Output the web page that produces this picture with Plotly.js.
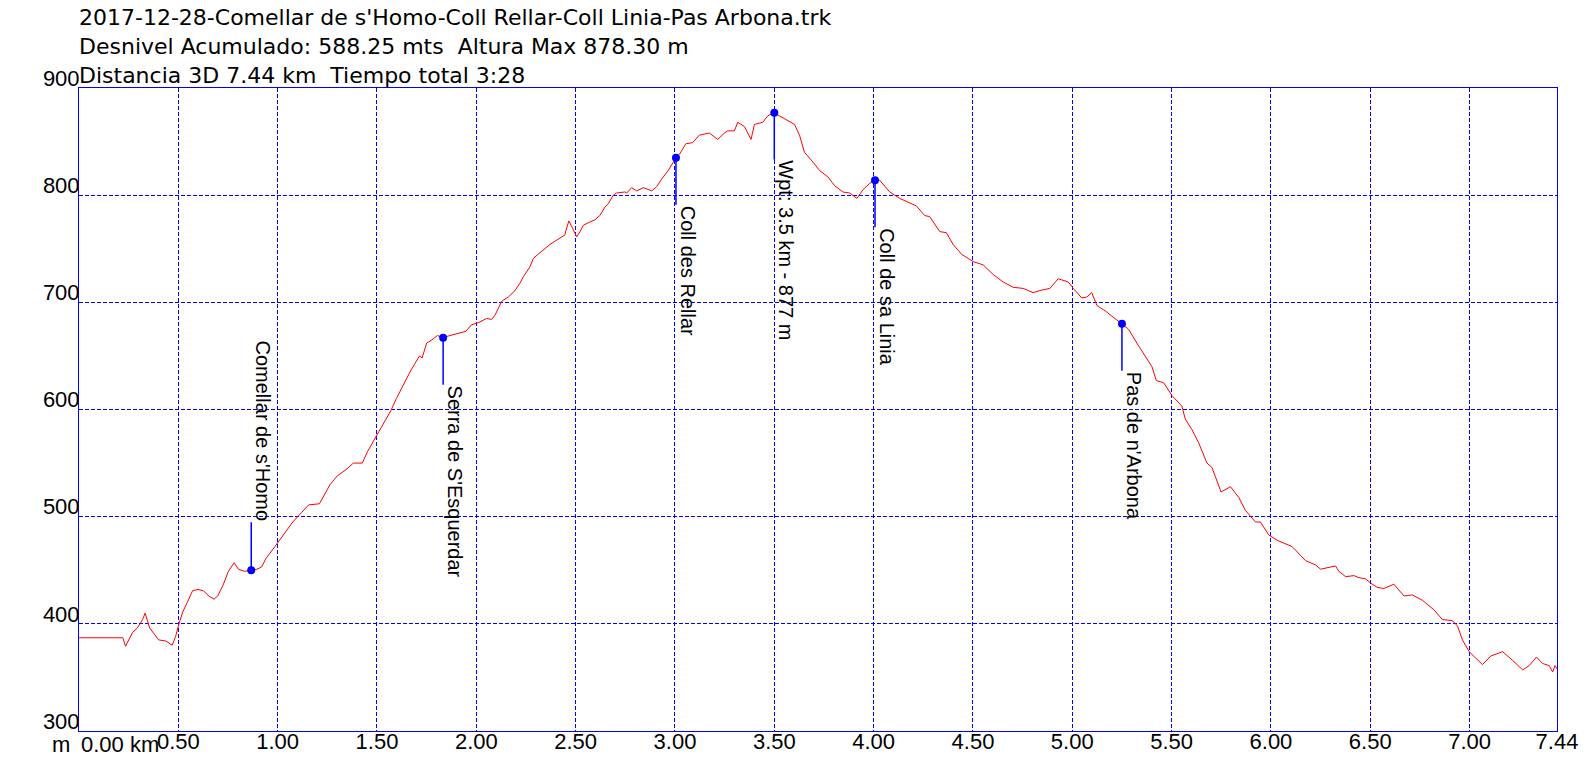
<!DOCTYPE html>
<html><head><meta charset="utf-8">
<script src="https://cdn.plot.ly/plotly-3.0.1.min.js"></script>
<style>html,body{margin:0;padding:0;background:#fff;} #chart{width:1596px;height:769px;}</style>
</head><body><div id="chart"></div>
<script>
const titleLines = [
  "2017-12-28-Comellar de s'Homo-Coll Rellar-Coll Linia-Pas Arbona.trk",
  "Desnivel Acumulado: 588.25 mts  Altura Max 878.30 m",
  "Distancia 3D 7.44 km  Tiempo total 3:28"
];

const distKm = [
  0.000,0.221,0.234,0.270,0.293,0.320,0.333,0.342,0.356,0.401,0.437,0.469,0.486,0.500,0.522,0.545,0.572,0.599,0.626,0.653,
  0.680,0.698,0.725,0.752,0.781,0.802,0.833,0.867,0.896,0.919,0.941,0.986,1.022,1.076,1.121,1.156,1.210,1.228,1.264,1.300,
  1.345,1.381,1.426,1.453,1.489,1.534,1.570,1.597,1.642,1.669,1.714,1.727,1.750,1.777,1.804,1.833,1.867,1.903,1.948,1.975,
  2.011,2.052,2.077,2.094,2.128,2.161,2.195,2.220,2.237,2.270,2.287,2.312,2.337,2.371,2.396,2.421,2.446,2.451,2.466,2.485,
  2.505,2.522,2.539,2.572,2.597,2.622,2.648,2.664,2.690,2.706,2.748,2.757,2.782,2.807,2.841,2.883,2.908,2.933,2.966,2.992,
  3.005,3.022,3.055,3.089,3.123,3.173,3.215,3.249,3.266,3.299,3.316,3.350,3.383,3.400,3.442,3.467,3.500,3.526,3.568,3.602,
  3.627,3.652,3.694,3.728,3.770,3.803,3.845,3.879,3.916,3.946,3.980,4.007,4.030,4.081,4.131,4.182,4.215,4.257,4.282,4.333,
  4.366,4.400,4.442,4.501,4.551,4.602,4.652,4.703,4.753,4.803,4.837,4.887,4.929,4.980,5.005,5.048,5.073,5.098,5.124,5.166,
  5.208,5.250,5.283,5.325,5.367,5.401,5.423,5.460,5.502,5.552,5.569,5.603,5.636,5.678,5.703,5.729,5.749,5.796,5.838,5.871,
  5.922,5.947,5.989,6.031,6.073,6.107,6.174,6.224,6.250,6.292,6.325,6.342,6.376,6.418,6.443,6.476,6.502,6.535,6.569,6.619,
  6.670,6.712,6.762,6.821,6.863,6.913,6.939,6.964,6.998,7.031,7.065,7.107,7.166,7.216,7.267,7.300,7.337,7.367,7.401,7.418,
  7.430,7.440
];
const elevM = [
  387,387,379,392,396,404,410,404,396,385,384,380,388,398,411,420,431,432,431,426,
  423,426,436,449,457,451,449,450,451,453,461,472,481,495,504,511,512,518,530,538,
  544,550,550,561,573,587,599,610,626,636,650,648,662,665,669,667,669,671,673,679,
  681,685,684,688,701,705,711,718,724,733,741,745,749,754,757,760,763,767,776,769,
  761,766,772,775,777,781,789,792,800,802,803,802,807,804,807,804,808,815,823,831,
  835,838,848,849,856,858,852,858,860,860,868,864,852,866,868,874,877,874,870,866,
  856,840,831,823,817,809,803,802,797,805,811,814,814,803,797,793,790,781,780,766,
  765,754,745,738,735,726,719,714,713,709,711,713,722,719,713,704,705,709,697,692,
  686,680,675,662,650,640,627,625,613,603,591,581,569,550,546,534,523,528,518,506,
  495,495,483,478,475,472,459,455,451,453,454,449,444,445,443,442,438,434,433,437,
  426,427,422,413,404,403,398,385,374,368,362,370,374,366,357,361,369,363,361,355,
  361,358
];

const wpNames = ["Comellar de s'Homo", "Serra de S'Esquerdar", "Coll des Rellar", "Wpt: 3.5 km - 877 m", "Coll de sa Linia", "Pas de n'Arbona"];
const wpKm = [0.867, 1.833, 3.005, 3.500, 4.007, 5.250];
const wpElev = [450, 667, 835, 877, 814, 680];
const wpLabelAbove = [true, false, false, false, false, false];

const xTickVals = [0.5,1.0,1.5,2.0,2.5,3.0,3.5,4.0,4.5,5.0,5.5,6.0,6.5,7.0,7.44];
const xTickText = ["0.50","1.00","1.50","2.00","2.50","3.00","3.50","4.00","4.50","5.00","5.50","6.00","6.50","7.00","7.44"];
const xStartLabel = "0.00 km";
const yTickVals = [300,400,500,600,700,800,900];
const yTickText = ["300","400","500","600","700","800","900"];
const yUnitLabel = "m";

const BLUE = '#0000ff';
const FONT = 'Liberation Sans, Arial, sans-serif';

const traces = [
  {x: distKm, y: elevM, type: 'scatter', mode: 'lines', line: {color: '#ff0000', width: 1}, hoverinfo: 'skip'},
  {x: wpKm, y: wpElev, type: 'scatter', mode: 'markers', marker: {color: BLUE, size: 8}, hoverinfo: 'skip'}
];

// Rotated (90deg clockwise) labels: anchors refer to the unrotated box, rotated about the stem end.
const annotations = wpNames.map((name, i) => ({
  x: wpKm[i], y: wpElev[i], xref: 'x', yref: 'y',
  text: name, textangle: 90,
  showarrow: true, arrowhead: 0, arrowwidth: 1.5, arrowcolor: BLUE,
  ax: 0, ay: wpLabelAbove[i] ? -48 : 47,
  xanchor: wpLabelAbove[i] ? 'right' : 'left', yanchor: 'bottom',
  borderpad: 0,
  font: {family: FONT, size: 20, color: '#000'}
}));
annotations.push({
  x: 0, y: 0, xref: 'x', yref: 'paper', text: xStartLabel, showarrow: false,
  xanchor: 'left', yanchor: 'top', yshift: 1, font: {family: FONT, size: 22, color: '#000'}
});
annotations.push({
  x: 0, y: 0, xref: 'paper', yref: 'paper', text: yUnitLabel, showarrow: false,
  xanchor: 'right', yanchor: 'top', xshift: -7, yshift: 1, font: {family: FONT, size: 22, color: '#000'}
});

const layout = {
  width: 1596, height: 769,
  margin: {l: 79, r: 39, t: 88, b: 38, pad: 0},
  paper_bgcolor: '#fff', plot_bgcolor: '#fff',
  showlegend: false, hovermode: false,
  title: {
    text: titleLines.join('<br>'),
    x: 0, xref: 'paper', xanchor: 'left',
    y: 0.967, yref: 'container', yanchor: 'top',
    font: {family: 'DejaVu Sans, sans-serif', size: 22, color: '#000'}
  },
  xaxis: {
    range: [0, 7.44], tickmode: 'array', tickvals: xTickVals, ticktext: xTickText,
    showgrid: true, gridcolor: BLUE, gridwidth: 1, griddash: '4px,2px',
    showline: true, linecolor: BLUE, linewidth: 1, mirror: true,
    ticks: '', zeroline: false, ticklabelstandoff: -9,
    tickfont: {family: FONT, size: 22, color: '#000'}
  },
  yaxis: {
    range: [300, 900], tickmode: 'array', tickvals: yTickVals, ticktext: yTickText,
    showgrid: true, gridcolor: BLUE, gridwidth: 1, griddash: '4px,2px',
    showline: true, linecolor: BLUE, linewidth: 1, mirror: true,
    ticks: '', zeroline: false, ticklabelshift: -10, ticklabelstandoff: -6,
    tickfont: {family: FONT, size: 22, color: '#000'}
  },
  annotations: annotations
};

Plotly.newPlot('chart', traces, layout, {staticPlot: true, displayModeBar: false});
</script>
</body></html>
